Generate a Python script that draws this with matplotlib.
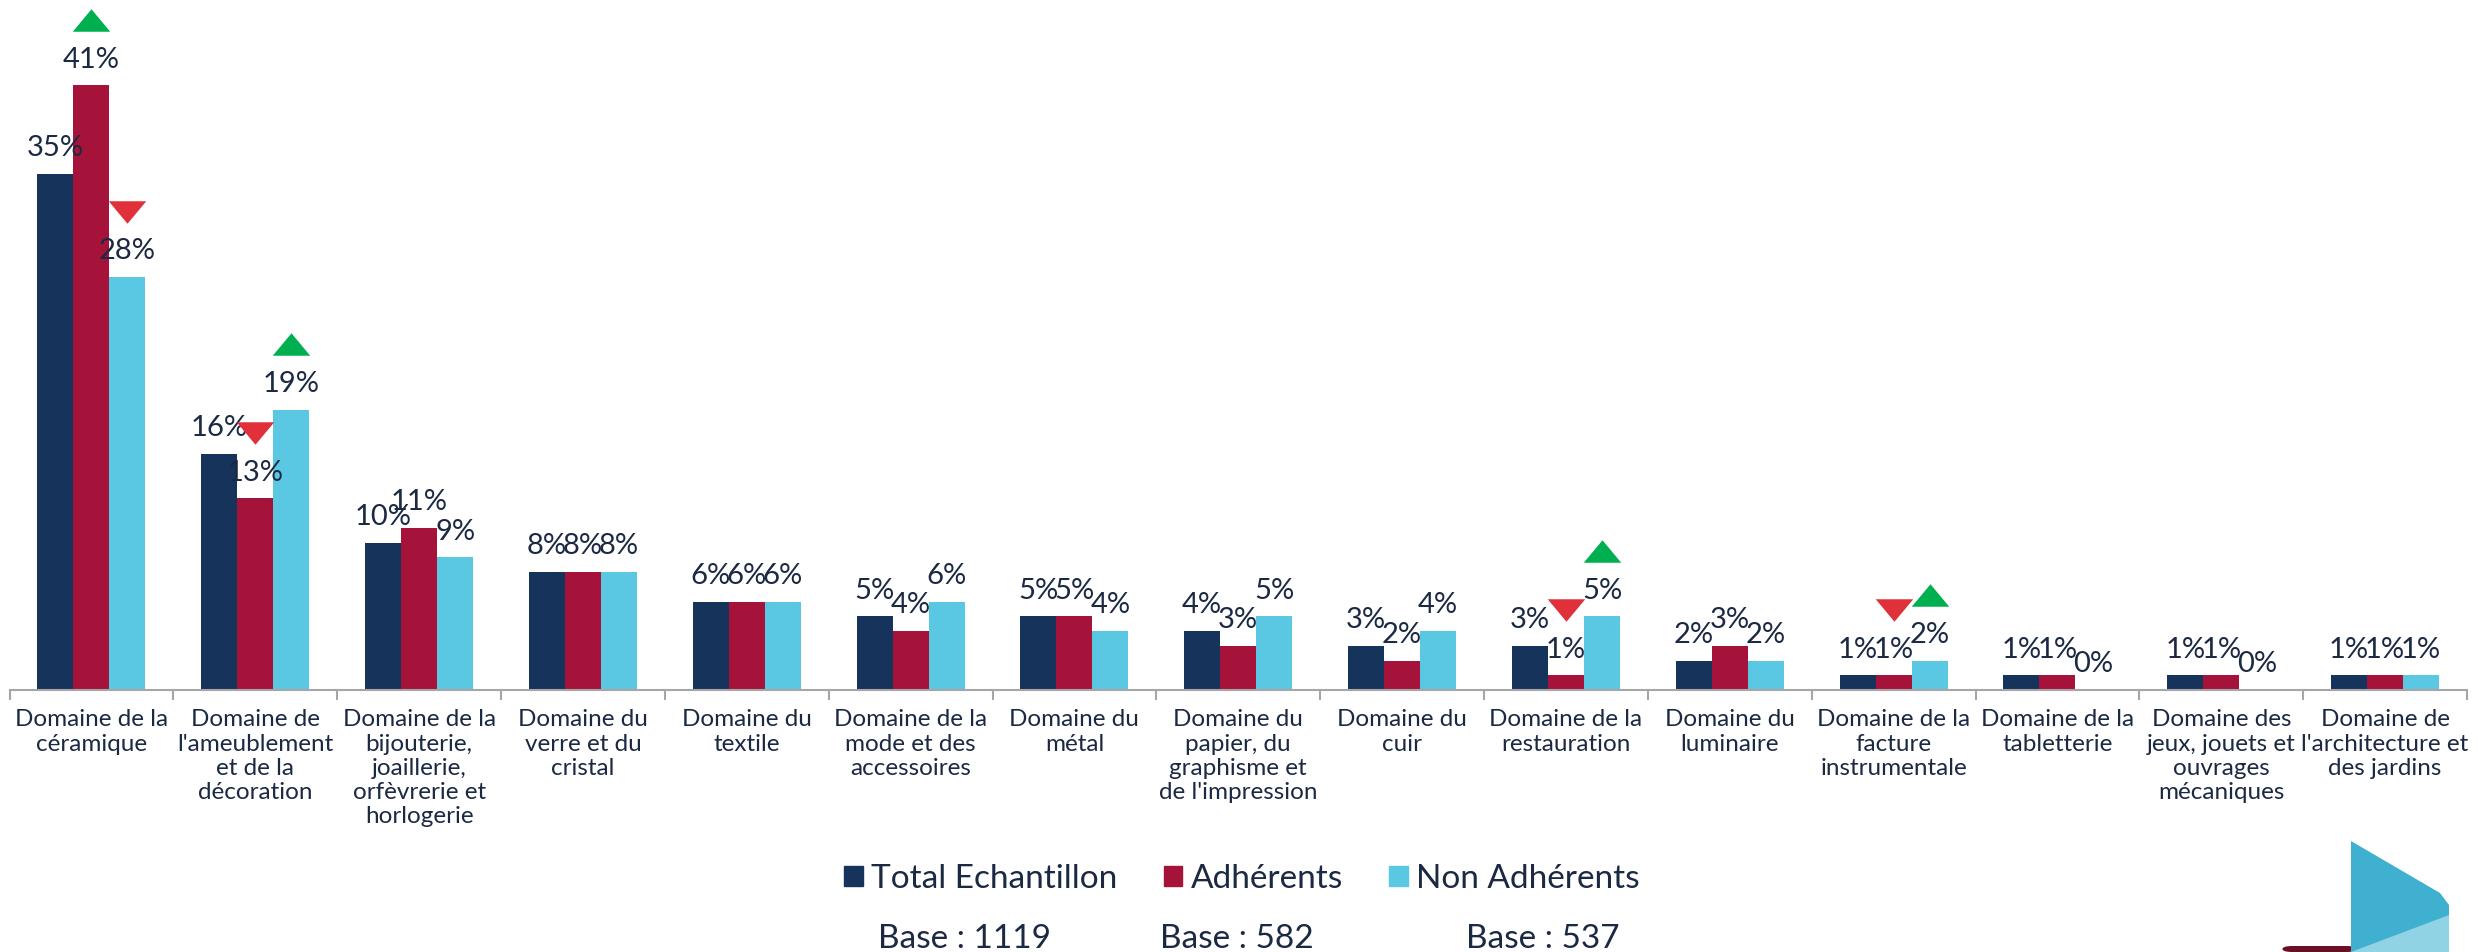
"""Bar chart: domaines d'activité, total vs adhérents vs non adhérents."""
import matplotlib
matplotlib.use("Agg")
import matplotlib.pyplot as plt
from matplotlib import transforms
from matplotlib.patches import Polygon, Rectangle, FancyBboxPatch

# data
categories = [
    "Domaine de la\ncéramique",
    "Domaine de\nl'ameublement\net de la\ndécoration",
    "Domaine de la\nbijouterie,\njoaillerie,\norfèvrerie et\nhorlogerie",
    "Domaine du\nverre et du\ncristal",
    "Domaine du\ntextile",
    "Domaine de la\nmode et des\naccessoires",
    "Domaine du\nmétal",
    "Domaine du\npapier, du\ngraphisme et\nde l'impression",
    "Domaine du\ncuir",
    "Domaine de la\nrestauration",
    "Domaine du\nluminaire",
    "Domaine de la\nfacture\ninstrumentale",
    "Domaine de la\ntabletterie",
    "Domaine des\njeux, jouets et\nouvrages\nmécaniques",
    "Domaine de\nl'architecture et\ndes jardins",
]
total = [35, 16, 10, 8, 6, 5, 5, 4, 3, 3, 2, 1, 1, 1, 1]
adherents = [41, 13, 11, 8, 6, 4, 5, 3, 2, 1, 3, 1, 1, 1, 1]
non_adherents = [28, 19, 9, 8, 6, 6, 4, 5, 4, 5, 2, 2, 0, 0, 1]
series_names = ["Total Echantillon", "Adhérents", "Non Adhérents"]
bases = ["Base : 1119", "Base : 582", "Base : 537"]

# significance arrows: (category index, series index, direction)
arrow_cat = [0, 0, 1, 1, 9, 9, 11, 11]
arrow_series = [1, 2, 1, 2, 1, 2, 1, 2]
arrow_dir = ["up", "down", "down", "up", "down", "up", "down", "up"]

# style
colors = ["#15335b", "#a5133b", "#5bc8e3"]
text_color = "#1b2942"
up_color = "#00b050"
down_color = "#e0313a"
plt.rcParams["font.family"] = ["Lato", "DejaVu Sans"]

W, H, DPI = 2478, 952, 100
fig = plt.figure(figsize=(W / DPI, H / DPI), dpi=DPI)
ax = fig.add_axes([9.5 / W, (H - 690) / H, (2467 - 9.5) / W, 690 / H])

series = [total, adherents, non_adherents]
bar_w = 0.22
x = list(range(len(categories)))
offsets = [-bar_w, 0, bar_w]

for vals, off, col in zip(series, offsets, colors):
    xs = [i + off for i in x]
    ax.bar(xs, vals, width=bar_w, color=col, linewidth=0)
    for xi, v in zip(xs, vals):
        ax.annotate(f"{v}%", (xi, v), xytext=(0, 18.5), textcoords="offset points",
                    ha="center", va="center", fontsize=21, color=text_color)

# arrows above the bars
tri_up = [(-1, -0.6), (1, -0.6), (0, 0.6), (-1, -0.6)]
tri_down = [(-1, 0.6), (1, 0.6), (0, -0.6), (-1, 0.6)]
arrow_trans = transforms.offset_copy(ax.transData, fig=fig, y=47, units="points")
for c, s, d in zip(arrow_cat, arrow_series, arrow_dir):
    xv = c + offsets[s]
    yv = series[s][c]
    ax.scatter([xv], [yv], marker=tri_up if d == "up" else tri_down, s=27 ** 2,
               color=up_color if d == "up" else down_color, linewidths=0,
               transform=arrow_trans, clip_on=False, zorder=5)

ax.set_xlim(-0.5, len(categories) - 0.5)
ax.set_ylim(0, 690 / 14.75)
for side in ["left", "right", "top"]:
    ax.spines[side].set_visible(False)
ax.spines["bottom"].set_color("#a6a6a6")
ax.spines["bottom"].set_linewidth(1.5)
ax.set_yticks([])
ax.set_xticks(x)
ax.set_xticklabels(categories, fontsize=17.5, color=text_color, linespacing=1.18)
ax.tick_params(axis="x", which="major", length=0, pad=14)
ax.set_xticks([i - 0.5 for i in range(len(categories) + 1)], minor=True)
ax.tick_params(axis="x", which="minor", length=7, width=1.5, color="#a6a6a6")

# legend + bases
handles = [Rectangle((0, 0), 1, 1, color=c) for c in colors]
fig.legend(handles, series_names, loc="center", bbox_to_anchor=(1242 / W, 1 - 879 / H),
           ncol=3, frameon=False, fontsize=24, handlelength=0.55, handleheight=0.55,
           handletextpad=0.25, columnspacing=1.4, labelcolor=text_color)
for bx, txt in zip([964, 1237, 1543], bases):
    fig.text(bx / W, 1 - 939 / H, txt, ha="center", va="center", fontsize=24, color=text_color)

# corner logo decoration
fig.add_artist(FancyBboxPatch((2282 / W, 0), 75 / W, 6 / H, boxstyle="round,pad=0,rounding_size=0.004",
                              transform=fig.transFigure, color="#6b0f24", lw=0))
fig.add_artist(Polygon([(2351 / W, 1 - 841 / H), (2440 / W, 1 - 893 / H), (2449 / W, 1 - 905 / H),
                        (2449 / W, 0), (2351 / W, 0)], closed=True, transform=fig.transFigure,
                       color="#3fb0d0", lw=0))
fig.add_artist(Polygon([(2351 / W, 0), (2449 / W, 1 - 915 / H), (2449 / W, 0)], closed=True,
                       transform=fig.transFigure, color="#8fd3e4", lw=0))

fig.savefig("out.png", dpi=DPI)
